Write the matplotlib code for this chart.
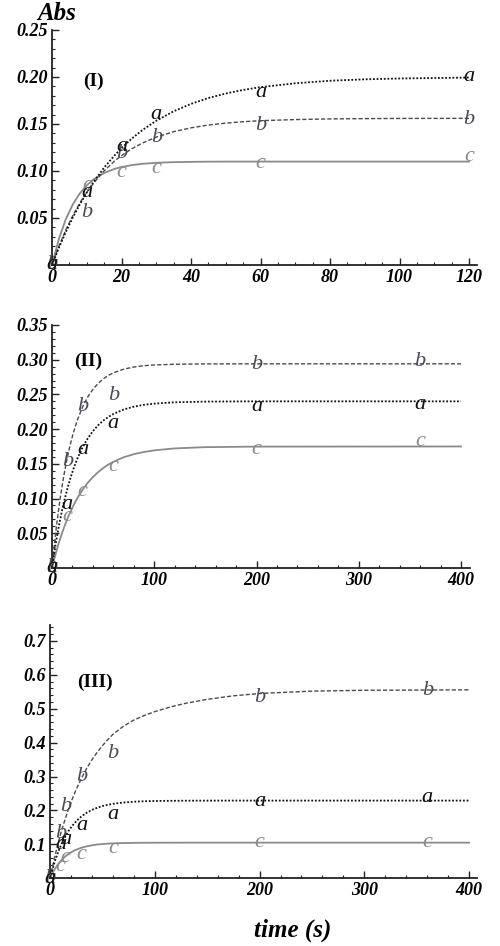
import numpy as np
import matplotlib.pyplot as plt
from matplotlib.ticker import MultipleLocator

# ---- panel I data (time in s, Abs) ----
t1_curve = [0, 2, 4, 6, 8, 10, 12, 15, 18, 20, 23, 26, 30, 35, 40, 45, 50, 55, 60, 70, 80, 90, 100, 120]
a1_curve = [0, 0.0185, 0.0353, 0.0506, 0.0644, 0.077, 0.0884, 0.1036, 0.1166, 0.1243, 0.1346, 0.1435,
            0.1534, 0.1635, 0.1714, 0.1776, 0.1824, 0.1862, 0.1892, 0.1933, 0.196, 0.1975, 0.1984, 0.1994]
b1_curve = [0, 0.020, 0.0375, 0.0526, 0.0658, 0.0774, 0.0873, 0.1001, 0.1106, 0.1164, 0.1237, 0.1297,
            0.136, 0.1418, 0.1459, 0.1489, 0.1509, 0.1524, 0.1535, 0.1547, 0.1554, 0.1557, 0.1559, 0.156]
c1_curve = [0, 0.028, 0.0489, 0.0645, 0.0761, 0.0847, 0.0912, 0.0979, 0.1022, 0.1042, 0.1063, 0.1076,
            0.1087, 0.1094, 0.1097, 0.1099, 0.110, 0.110, 0.110, 0.110, 0.110, 0.110, 0.110, 0.110]
t1_pts = [0, 10, 20, 30, 60, 120]
a1_pts = [0, 0.077, 0.126, 0.160, 0.184, 0.200]
b1_pts = [0, 0.056, 0.119, 0.136, 0.148, 0.155]
c1_pts = [0, 0.085, 0.098, 0.103, 0.108, 0.115]

# ---- panel II data ----
t2_curve = [0, 2, 4, 6, 8, 10, 12, 15, 18, 21, 25, 30, 35, 40, 45, 50, 55, 60, 70, 80, 90, 100, 120, 150, 200, 400]
a2_curve = [0, 0.0198, 0.0379, 0.0545, 0.0699, 0.0841, 0.0968, 0.1141, 0.1293, 0.1428, 0.1582, 0.174, 0.1867,
            0.1971, 0.2054, 0.2121, 0.2174, 0.2218, 0.2282, 0.2323, 0.235, 0.2367, 0.2386, 0.2396, 0.24, 0.24]
b2_curve = [0, 0.029, 0.0553, 0.0789, 0.1002, 0.1192, 0.1363, 0.1593, 0.1787, 0.1952, 0.2138, 0.2323, 0.2464,
            0.2572, 0.2657, 0.2722, 0.2772, 0.281, 0.2863, 0.2894, 0.2913, 0.2924, 0.2934, 0.2939, 0.294, 0.294]
c2_curve = [0, 0.0117, 0.0225, 0.0327, 0.0422, 0.0511, 0.0593, 0.0707, 0.0809, 0.0901, 0.1012, 0.1129, 0.1227,
            0.1309, 0.1379, 0.1438, 0.1488, 0.1529, 0.1594, 0.1639, 0.1671, 0.1694, 0.1722, 0.174, 0.1748, 0.175]
t2_pts = [0, 15, 30, 60, 200, 360]
a2_pts = [0, 0.091, 0.170, 0.208, 0.232, 0.235]
b2_pts = [0, 0.153, 0.232, 0.249, 0.293, 0.297]
c2_pts = [0, 0.074, 0.110, 0.146, 0.170, 0.182]

# ---- panel III data ----
t3_curve = [0, 2, 4, 6, 8, 10, 12, 15, 18, 21, 25, 30, 35, 40, 45, 50, 55, 60, 70, 80, 90, 100,
            115, 130, 150, 175, 200, 250, 300, 400]
a3_curve = [0, 0.023, 0.0437, 0.0623, 0.0792, 0.0941, 0.1076, 0.1254, 0.1409, 0.1538, 0.1682, 0.1823,
            0.1933, 0.2015, 0.2079, 0.2128, 0.2166, 0.2195, 0.2234, 0.2257, 0.2271, 0.2279, 0.2284, 0.2287,
            0.2289, 0.229, 0.229, 0.229, 0.229, 0.229]
b3_curve = [0, 0.0287, 0.0559, 0.0818, 0.1062, 0.1295, 0.1501, 0.1796, 0.2072, 0.2318, 0.2619, 0.2946,
            0.3241, 0.3492, 0.3714, 0.3908, 0.4081, 0.4242, 0.4482, 0.4665, 0.48, 0.4914, 0.5052, 0.5163,
            0.5275, 0.538, 0.5448, 0.5518, 0.5543, 0.5556]
c3_curve = [0, 0.0128, 0.024, 0.0339, 0.0425, 0.0502, 0.0569, 0.0654, 0.0725, 0.0782, 0.0843, 0.0901,
            0.0942, 0.0972, 0.0994, 0.1009, 0.102, 0.1029, 0.1039, 0.1044, 0.1047, 0.1048, 0.1049, 0.105,
            0.105, 0.105, 0.105, 0.105, 0.105, 0.105]
t3_pts = [0, 10, 15, 30, 60, 200, 360]
a3_pts = [0, 0.100, 0.113, 0.157, 0.187, 0.226, 0.237]
b3_pts = [0, 0.133, 0.211, 0.300, 0.369, 0.532, 0.553]
c3_pts = [0, 0.035, 0.060, 0.069, 0.088, 0.104, 0.104]

serif = 'Liberation Serif'
col_a = '#111111'
col_b = '#4a4a55'
col_c = '#8a8a8a'

fig = plt.figure(figsize=(5, 9.46), dpi=100)

panels = [
    dict(rect=[0.104, 0.7199, 0.85, 0.2484], xmax=122.3, ymax=0.25,
         xmaj=20, xmin=5, yticks=[0.05, 0.10, 0.15, 0.20, 0.25], ymin=0.01, yfmt='%.2f',
         label='(I)', lpos=(11.8, 0.195),
         t=t1_curve, a=a1_curve, b=b1_curve, c=c1_curve,
         tp=t1_pts, ap=a1_pts, bp=b1_pts, cp=c1_pts),
    dict(rect=[0.104, 0.3996, 0.836, 0.2569], xmax=408.8, ymax=0.35,
         xmaj=100, xmin=20, yticks=[0.05, 0.10, 0.15, 0.20, 0.25, 0.30, 0.35], ymin=0.01, yfmt='%.2f',
         label='(II)', lpos=(35, 0.297),
         t=t2_curve, a=a2_curve, b=b2_curve, c=c2_curve,
         tp=t2_pts, ap=a2_pts, bp=b2_pts, cp=c2_pts),
    dict(rect=[0.100, 0.0716, 0.853, 0.2678], xmax=407, ymax=0.747,
         xmaj=100, xmin=20, yticks=[0.1, 0.2, 0.3, 0.4, 0.5, 0.6, 0.7], ymin=0.02, yfmt='%.1f',
         label='(III)', lpos=(43, 0.579),
         t=t3_curve, a=a3_curve, b=b3_curve, c=c3_curve,
         tp=t3_pts, ap=a3_pts, bp=b3_pts, cp=c3_pts),
]

for p in panels:
    ax = fig.add_axes(p['rect'])
    ax.plot(p['t'], p['c'], color=col_c, lw=1.3, solid_joinstyle='round')
    ax.plot(p['t'], p['b'], color=col_b, lw=1.0, linestyle=(0, (3, 1.5)))
    ax.plot(p['t'], p['a'], color=col_a, lw=1.3, linestyle=(0, (1, 1)))

    for letter, tt, vv, col in [('c', p['tp'], p['cp'], col_c),
                                ('b', p['tp'], p['bp'], col_b),
                                ('a', p['tp'], p['ap'], col_a)]:
        for x, y in zip(tt, vv):
            ax.text(x, y, letter, color=col, fontsize=16, fontstyle='italic',
                    family=serif, ha='center', va='center')

    ax.text(p['lpos'][0], p['lpos'][1], p['label'], fontsize=14, fontweight='bold',
            family=serif, ha='center', va='center')

    ax.set_xlim(0, p['xmax'])
    ax.set_ylim(0, p['ymax'])
    ax.set_xticks(np.arange(0, p['xmax'], p['xmaj']))
    ax.xaxis.set_minor_locator(MultipleLocator(p['xmin']))
    ax.set_yticks(p['yticks'])
    ax.set_yticklabels([p['yfmt'] % v for v in p['yticks']])
    ax.yaxis.set_minor_locator(MultipleLocator(p['ymin']))

    for s in ['top', 'right']:
        ax.spines[s].set_visible(False)
    for s in ['left', 'bottom']:
        ax.spines[s].set_linewidth(1.3)
        ax.spines[s].set_color('#222222')
    ax.tick_params(which='major', direction='in', length=5, width=1.0, color='#222222', pad=3)
    ax.tick_params(which='minor', direction='in', length=2.5, width=0.8, color='#222222')
    for lab in ax.get_xticklabels() + ax.get_yticklabels():
        lab.set_family(serif)
        lab.set_fontweight('bold')
        lab.set_fontstyle('italic')
        lab.set_fontsize(13)
    ax.patch.set_visible(False)

fig.text(0.114, 0.986, 'Abs', fontsize=18, fontweight='bold', fontstyle='italic',
         family=serif, ha='center', va='center')
fig.text(0.586, 0.017, 'time (s)', fontsize=18, fontweight='bold', fontstyle='italic',
         family=serif, ha='center', va='center')

fig.savefig('out.png', dpi=100)
